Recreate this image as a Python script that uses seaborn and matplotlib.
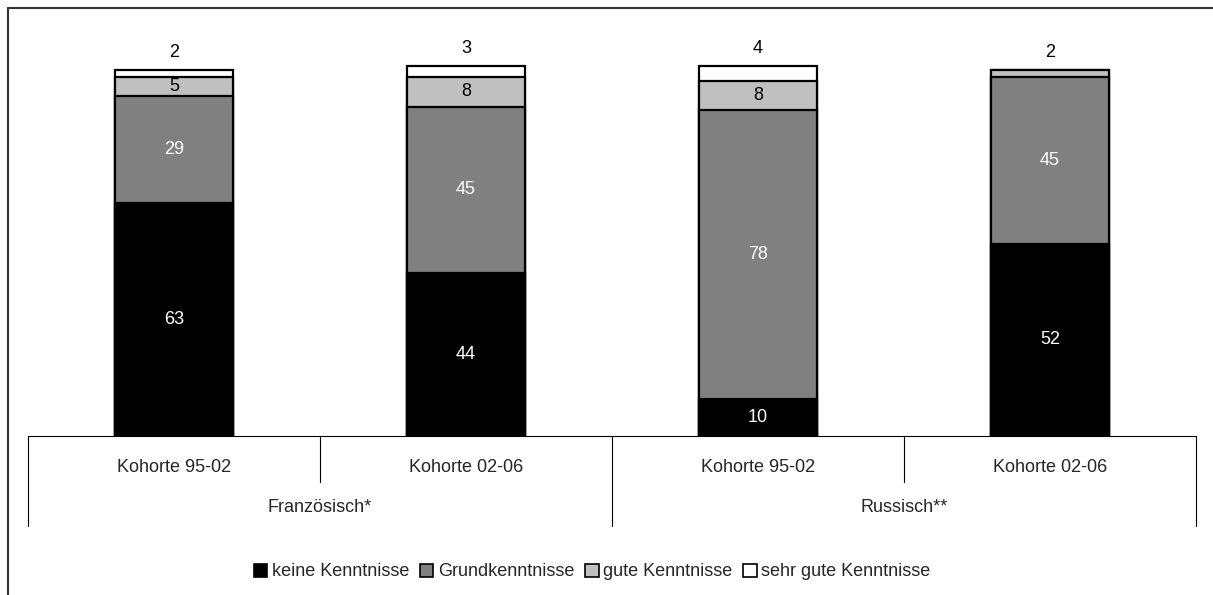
#!/usr/bin/env python3

import pandas as pd
import matplotlib
matplotlib.use('Agg')
import matplotlib.pyplot as plt
import seaborn as sns
from matplotlib import font_manager
from matplotlib.patches import Patch
from matplotlib.lines import Line2D

#------------------------------------------------------------------------------------
# data
#------------------------------------------------------------------------------------
kohorten = ['Kohorte 95-02', 'Kohorte 02-06', 'Kohorte 95-02', 'Kohorte 02-06']
sprachen = ['Französisch*', 'Russisch**']
stufen = ['keine Kenntnisse', 'Grundkenntnisse', 'gute Kenntnisse', 'sehr gute Kenntnisse']
keine = [63, 44, 10, 52]
grund = [29, 45, 78, 45]
gute = [5, 8, 8, 2]
sehr_gut = [2, 3, 4, 0]

farben = ['#000000', '#808080', '#c0c0c0', '#ffffff']
textfarben = ['white', 'white', 'black', 'black']

#------------------------------------------------------------------------------------
# font
#------------------------------------------------------------------------------------
sns.set_style('white')
names = {f.name for f in font_manager.fontManager.ttflist}
fam = 'Liberation Sans Narrow' if 'Liberation Sans Narrow' in names else 'Liberation Sans'
plt.rcParams['font.family'] = [fam, 'DejaVu Sans']

W, H = 1213, 595
fig = plt.figure(figsize=(W / 100, H / 100), dpi=100)
ax_top, ax_bot, ax_l, ax_r = 30, 436, 28, 1196
ax = fig.add_axes([ax_l / W, 1 - ax_bot / H, (ax_r - ax_l) / W, (ax_bot - ax_top) / H])

df = pd.DataFrame({'pos': list(range(len(kohorten))), 'keine': keine, 'grund': grund,
                   'gute': gute, 'sehr': sehr_gut})
cols = ['keine', 'grund', 'gute', 'sehr']
cum = df[cols].cumsum(axis=1)

# draw cumulative layers from top to bottom so they stack
for i in range(len(cols) - 1, -1, -1):
    sns.barplot(x=df['pos'], y=cum[cols[i]], color=farben[i], width=0.405,
                edgecolor='black', linewidth=1.6, saturation=1, ax=ax, order=[0, 1, 2, 3])

ymax = (ax_bot - ax_top) / 3.7
ax.set_ylim(0, ymax)
ax.set_xlim(-0.5, 3.5)
ax.set_xticks([])
ax.set_yticks([])
ax.set_xlabel('')
ax.set_ylabel('')
for s in ['top', 'right', 'left']:
    ax.spines[s].set_visible(False)
ax.spines['bottom'].set_color('black')
ax.spines['bottom'].set_linewidth(0.8)

# value labels
fs = 13
for j in range(len(df)):
    bottom = 0
    for i, c in enumerate(cols):
        v = df.loc[j, c]
        if i >= 2 and (v <= 4 or (c == 'gute' and df.loc[j, 'sehr'] == 0)):
            if v > 0:
                top = cum.loc[j, cols[-1]]
                ax.text(j, top + 2.3, str(v), ha='center', va='bottom', fontsize=fs, color='black')
        elif v > 0:
            ax.text(j, bottom + v / 2, str(v), ha='center', va='center', fontsize=fs,
                    color=textfarben[i])
        bottom += v

# multi level category axis
def yfrac(py):
    return (ax_bot - py) / (ax_bot - ax_top)

tr = ax.get_xaxis_transform()
for x in [0.5, 2.5]:
    ax.add_line(Line2D([x, x], [0, yfrac(482)], transform=tr, color='black', lw=0.8, clip_on=False))
for x in [-0.5, 1.5, 3.5]:
    ax.add_line(Line2D([x, x], [0, yfrac(526)], transform=tr, color='black', lw=0.8, clip_on=False))
for j, k in enumerate(kohorten):
    ax.text(j, yfrac(467), k, transform=tr, ha='center', va='center', fontsize=fs)
for g, s in enumerate(sprachen):
    ax.text(0.5 + 2 * g, yfrac(508), s, transform=tr, ha='center', va='center', fontsize=fs)

# legend
handles = [Patch(facecolor=farben[i], edgecolor='black', linewidth=1.2, label=stufen[i])
           for i in range(len(stufen))]
fig.legend(handles=handles, loc='center', bbox_to_anchor=(592 / W, 1 - 572 / H), ncol=4,
           frameon=False, fontsize=fs, handlelength=0.75, handleheight=0.75,
           handletextpad=0.25, columnspacing=0.6)

# outer frame
fig.add_artist(Line2D([8 / W, 8 / W], [0, 1 - 8 / H], transform=fig.transFigure, color='#333333', lw=1.5))
fig.add_artist(Line2D([8 / W, 1], [1 - 8 / H, 1 - 8 / H], transform=fig.transFigure, color='#333333', lw=1.5))

plt.savefig('out.png', dpi=100)
